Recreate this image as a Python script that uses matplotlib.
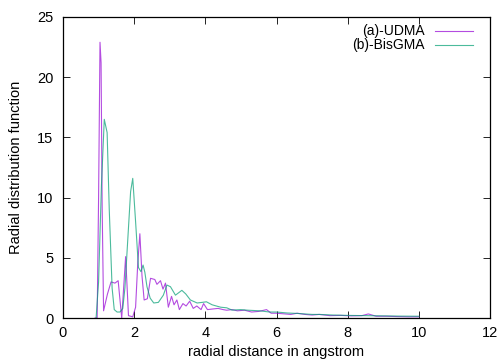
import matplotlib
matplotlib.use("Agg")
import matplotlib.pyplot as plt

plt.rcParams['font.family'] = ['Liberation Sans', 'DejaVu Sans']

# radial distance (angstrom) and g(r) for each resin
x_udma = [0.9, 0.96, 1.0, 1.04, 1.07, 1.1, 1.14, 1.25, 1.35, 1.46, 1.55, 1.65, 1.76, 1.84, 1.96,
          2.04, 2.10, 2.16, 2.22, 2.28, 2.37, 2.46, 2.58, 2.64, 2.74, 2.81, 2.88, 2.96, 3.05, 3.12, 3.2,
          3.27, 3.37, 3.46, 3.56, 3.66, 3.76, 3.88, 3.95, 4.06, 4.2, 4.36, 4.5, 4.6, 4.75, 4.9, 5.1,
          5.3, 5.5, 5.72, 5.85, 6.0, 6.2, 6.4, 6.58, 6.8, 7.0, 7.2, 7.5, 7.8, 8.1, 8.4, 8.58,
          8.8, 9.1, 9.4, 9.7, 10.0]
g_udma = [0, 0, 10, 22.9, 21.2, 9.3, 0.6, 2.0, 3.0, 2.9, 3.1, 0.0, 5.1, 0.2, 0.1,
          0.9, 4.5, 7.0, 3.5, 1.5, 1.6, 3.3, 3.2, 2.8, 3.1, 2.4, 2.9, 0.9, 1.8, 1.1, 1.5,
          0.7, 1.2, 1.0, 1.4, 0.8, 1.0, 0.7, 1.2, 0.7, 0.75, 0.8, 0.7, 0.65, 0.7, 0.6, 0.65,
          0.5, 0.55, 0.7, 0.4, 0.4, 0.35, 0.3, 0.4, 0.3, 0.25, 0.3, 0.2, 0.22, 0.18, 0.2, 0.34,
          0.15, 0.15, 0.12, 0.1, 0.1]

x_bisgma = [0.93, 1.0, 1.08, 1.16, 1.24, 1.3, 1.38, 1.44, 1.52, 1.6, 1.68, 1.74, 1.82, 1.9, 1.96,
            2.04, 2.12, 2.19, 2.25, 2.3, 2.36, 2.45, 2.55, 2.68, 2.82, 2.92, 3.02, 3.16, 3.25, 3.34, 3.45,
            3.58, 3.77, 3.91, 4.03, 4.19, 4.43, 4.6, 4.75, 4.99, 5.2, 5.53, 5.8, 6.0, 6.3, 6.6, 7.0,
            7.2, 7.6, 8.0, 8.5, 9.0, 9.5, 10.0]
g_bisgma = [0, 3, 11, 16.5, 15.4, 9, 2.5, 0.7, 0.5, 0.5, 0.8, 2.5, 6.5, 10.5, 11.6,
            8, 4.2, 3.85, 4.4, 3.8, 2.6, 1.65, 1.25, 1.3, 1.9, 2.74, 2.6, 1.9, 2.1, 2.3, 2.0,
            1.5, 1.25, 1.3, 1.35, 1.1, 0.9, 0.85, 0.66, 0.7, 0.65, 0.6, 0.5, 0.5, 0.42, 0.38, 0.3,
            0.3, 0.25, 0.22, 0.2, 0.18, 0.16, 0.15]

labels = ["(a)-UDMA", "(b)-BisGMA"]
colors = ["#9400d3", "#009e73"]

fig = plt.figure(figsize=(4.98, 3.61), dpi=100)
ax = fig.add_axes([0.1265, 0.119, 0.8575, 0.834])

ax.plot(x_udma, g_udma, color=colors[0], lw=0.8, alpha=0.7)
ax.plot(x_bisgma, g_bisgma, color=colors[1], lw=0.8, alpha=0.7)

ax.set_xlim(0, 12)
ax.set_ylim(0, 25)
ax.set_xticks(range(0, 13, 2))
ax.set_yticks(range(0, 26, 5))
ax.tick_params(direction='in', top=True, right=True, length=5, width=0.6, labelsize=10.5)
ax.tick_params(axis='x', pad=6)
ax.tick_params(axis='y', pad=7)
for s in ax.spines.values():
    s.set_linewidth(0.9)

ax.set_xlabel("radial distance in angstrom", fontsize=10.5, labelpad=3)
ax.set_ylabel("Radial distribution function", fontsize=10.5, labelpad=10)

# gnuplot style key: right-aligned text, sample line to the right
for i, (lab, c) in enumerate(zip(labels, colors)):
    yk = 0.952 - i * 0.044
    ax.text(0.848, yk, lab, transform=ax.transAxes, ha='right', va='center', fontsize=10)
    ax.plot([0.871, 0.960], [yk, yk], transform=ax.transAxes, color=c, lw=0.8, alpha=0.7)

fig.savefig("out.png", dpi=100)
